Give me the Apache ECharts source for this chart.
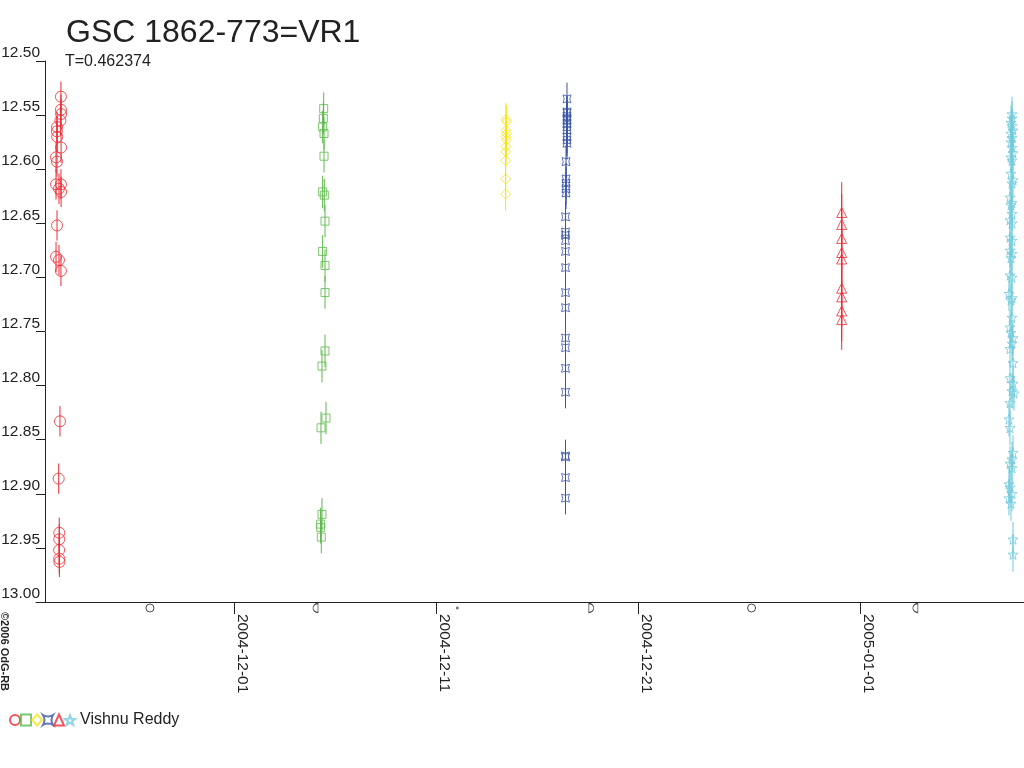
<!DOCTYPE html>
<html><head><meta charset="utf-8">
<script src="https://cdn.jsdelivr.net/npm/echarts@6/dist/echarts.min.js"></script>
<style>html,body{margin:0;padding:0;background:#fff}#c{width:1024px;height:768px}</style>
</head><body><div id="c"></div>
<script>
// ---- data ----
const TITLE = 'GSC 1862-773=VR1';
const SUBTITLE = 'T=0.462374';
const OBSERVER = 'Vishnu Reddy';
const COPYRIGHT = '©2006 OdG-RB';

const X_MIN = '2004-11-21 04:41';
const X_MAX = '2005-01-09 02:54';
const X_TICKS = ['2004-12-01', '2004-12-11', '2004-12-21', '2005-01-01'];
const Y_MIN = 12.50, Y_MAX = 13.00, Y_STEP = 0.05;

const MOON_DATES = ['2004-11-26 20:07', '2004-12-05 00:53', '2004-12-12 01:29', '2004-12-18 16:40', '2004-12-26 15:06', '2005-01-03 17:46'];
const MOON_PHASES = ['full', 'last', 'new', 'first', 'full', 'last'];

const ERR_CIRCLE = 0.014, ERR_SQUARE = 0.015, ERR_DIAMOND = 0.015, ERR_QUAD = 0.015, ERR_TRIANGLE = 0.028, ERR_STAR = 0.016;

const CIRCLE_PTS = [
 ['2004-11-22 10:20', 12.533], ['2004-11-22 10:20', 12.545], ['2004-11-22 10:30', 12.549], ['2004-11-22 09:40', 12.555],
 ['2004-11-22 05:40', 12.561], ['2004-11-22 05:30', 12.565], ['2004-11-22 05:50', 12.570], ['2004-11-22 10:30', 12.580],
 ['2004-11-22 04:30', 12.589], ['2004-11-22 05:40', 12.593], ['2004-11-22 04:30', 12.614], ['2004-11-22 10:20', 12.614],
 ['2004-11-22 08:00', 12.618], ['2004-11-22 10:30', 12.621], ['2004-11-22 05:40', 12.652], ['2004-11-22 04:30', 12.681],
 ['2004-11-22 08:00', 12.684], ['2004-11-22 10:20', 12.694], ['2004-11-22 09:10', 12.833], ['2004-11-22 07:40', 12.886],
 ['2004-11-22 08:20', 12.936], ['2004-11-22 08:20', 12.942], ['2004-11-22 08:10', 12.952], ['2004-11-22 08:20', 12.960],
 ['2004-11-22 08:30', 12.963]
];
const SQUARE_PTS = [
 ['2004-12-05 10:35', 12.544], ['2004-12-05 10:10', 12.553], ['2004-12-05 09:20', 12.561], ['2004-12-05 11:00', 12.567],
 ['2004-12-05 11:00', 12.588], ['2004-12-05 09:20', 12.621], ['2004-12-05 11:20', 12.624], ['2004-12-05 12:10', 12.648],
 ['2004-12-05 09:20', 12.676], ['2004-12-05 12:10', 12.689], ['2004-12-05 12:10', 12.714], ['2004-12-05 12:10', 12.768],
 ['2004-12-05 08:35', 12.782], ['2004-12-05 13:20', 12.830], ['2004-12-05 07:25', 12.839], ['2004-12-05 08:35', 12.919],
 ['2004-12-05 07:02', 12.928], ['2004-12-05 07:02', 12.931], ['2004-12-05 07:45', 12.940]
];
const DIAMOND_PTS = [
 ['2004-12-14 11:15', 12.554], ['2004-12-14 11:40', 12.556], ['2004-12-14 11:15', 12.564], ['2004-12-14 11:40', 12.567],
 ['2004-12-14 11:15', 12.570], ['2004-12-14 11:40', 12.573], ['2004-12-14 11:15', 12.579], ['2004-12-14 10:50', 12.584],
 ['2004-12-14 10:50', 12.592], ['2004-12-14 10:50', 12.609], ['2004-12-14 10:50', 12.623]
];
const QUAD_PTS = [
 ['2004-12-17 11:45', 12.535], ['2004-12-17 11:45', 12.547], ['2004-12-17 11:45', 12.548], ['2004-12-17 11:45', 12.551],
 ['2004-12-17 11:45', 12.553], ['2004-12-17 11:45', 12.555], ['2004-12-17 11:45', 12.558], ['2004-12-17 11:45', 12.561],
 ['2004-12-17 11:45', 12.564], ['2004-12-17 11:45', 12.570], ['2004-12-17 11:45', 12.573], ['2004-12-17 11:45', 12.576],
 ['2004-12-17 10:35', 12.593], ['2004-12-17 10:35', 12.609], ['2004-12-17 10:35', 12.613], ['2004-12-17 10:35', 12.618],
 ['2004-12-17 10:35', 12.622], ['2004-12-17 10:00', 12.644], ['2004-12-17 10:00', 12.658], ['2004-12-17 10:00', 12.661],
 ['2004-12-17 10:00', 12.666], ['2004-12-17 10:00', 12.676], ['2004-12-17 10:00', 12.691], ['2004-12-17 10:00', 12.714],
 ['2004-12-17 10:00', 12.728], ['2004-12-17 10:00', 12.756], ['2004-12-17 10:00', 12.765], ['2004-12-17 10:00', 12.784],
 ['2004-12-17 10:00', 12.806], ['2004-12-17 10:00', 12.865], ['2004-12-17 10:00', 12.866], ['2004-12-17 10:00', 12.885],
 ['2004-12-17 10:00', 12.904]
];
const TRIANGLE_PTS = [
 ['2004-12-31 02:15', 12.640], ['2004-12-31 02:15', 12.651], ['2004-12-31 02:15', 12.664], ['2004-12-31 02:15', 12.677],
 ['2004-12-31 02:15', 12.683], ['2004-12-31 02:15', 12.710], ['2004-12-31 02:15', 12.718], ['2004-12-31 02:15', 12.731],
 ['2004-12-31 02:15', 12.739]
];
const STAR_PTS = [
 ['2005-01-08 12:37', 12.549], ['2005-01-08 12:37', 12.553], ['2005-01-08 11:26', 12.557], ['2005-01-08 12:37', 12.560],
 ['2005-01-08 13:48', 12.564], ['2005-01-08 11:26', 12.567], ['2005-01-08 12:37', 12.571], ['2005-01-08 11:26', 12.575],
 ['2005-01-08 12:37', 12.580], ['2005-01-08 13:48', 12.585], ['2005-01-08 11:26', 12.589], ['2005-01-08 12:37', 12.592],
 ['2005-01-08 11:26', 12.604], ['2005-01-08 13:48', 12.610], ['2005-01-08 12:37', 12.613], ['2005-01-08 10:15', 12.626],
 ['2005-01-08 12:37', 12.631], ['2005-01-08 11:26', 12.633], ['2005-01-08 12:37', 12.641], ['2005-01-08 10:15', 12.647],
 ['2005-01-08 12:37', 12.650], ['2005-01-08 10:15', 12.663], ['2005-01-08 12:37', 12.666], ['2005-01-08 10:15', 12.675],
 ['2005-01-08 12:37', 12.678], ['2005-01-08 11:26', 12.682], ['2005-01-08 10:15', 12.698], ['2005-01-08 12:37', 12.700],
 ['2005-01-08 09:03', 12.715], ['2005-01-08 12:37', 12.719], ['2005-01-08 11:26', 12.721], ['2005-01-08 12:37', 12.737],
 ['2005-01-08 10:15', 12.746], ['2005-01-08 11:26', 12.751], ['2005-01-08 13:48', 12.756], ['2005-01-08 12:37', 12.761],
 ['2005-01-08 10:15', 12.766], ['2005-01-08 13:48', 12.779], ['2005-01-08 10:15', 12.793], ['2005-01-08 13:48', 12.798],
 ['2005-01-08 12:37', 12.805], ['2005-01-08 15:00', 12.807], ['2005-01-08 10:15', 12.816], ['2005-01-08 09:03', 12.831],
 ['2005-01-08 10:15', 12.839], ['2005-01-08 13:48', 12.862], ['2005-01-08 12:37', 12.868], ['2005-01-08 10:15', 12.872],
 ['2005-01-08 12:37', 12.876], ['2005-01-08 09:03', 12.891], ['2005-01-08 10:15', 12.894], ['2005-01-08 12:37', 12.900],
 ['2005-01-08 09:03', 12.904], ['2005-01-08 11:26', 12.909], ['2005-01-08 13:48', 12.942], ['2005-01-08 13:48', 12.956]
];

// ---- helpers ----
function t(s) { return Date.parse(s.replace(' ', 'T') + (s.length > 10 ? ':00Z' : 'T00:00:00Z')); }
function fmtDate(v) { return new Date(v).toISOString().slice(0, 10); }

const STAR_PATH = 'path://M10,0 L12.35,6.76 L19.51,6.91 L13.8,11.24 L15.88,18.09 L10,14 L4.12,18.09 L6.2,11.24 L0.49,6.91 L7.65,6.76 Z';
const QUAD_PATH = 'path://M0,0 Q5,3 10,0 Q7,5 10,10 Q5,7 0,10 Q3,5 0,0 Z';
const HALF_LEFT = 'path://M5,0 A5,5 0 0 0 5,10 L5,0 Z';
const HALF_RIGHT = 'path://M0,0 A5,5 0 0 1 0,10 L0,0 Z';

const FONT = 'Liberation Sans, Arial, sans-serif';
const TXT = '#222';

const groups = [
  { name: 'c1', pts: CIRCLE_PTS, err: ERR_CIRCLE, color: '#ee2a33', symbol: 'circle', size: 11 },
  { name: 'c2', pts: SQUARE_PTS, err: ERR_SQUARE, color: '#5db94b', symbol: 'rect', size: 8 },
  { name: 'c3', pts: DIAMOND_PTS, err: ERR_DIAMOND, color: '#f5e418', symbol: 'diamond', size: 10 },
  { name: 'c4', pts: QUAD_PTS, err: ERR_QUAD, color: '#3a55a6', symbol: QUAD_PATH, size: 8 },
  { name: 'c5', pts: TRIANGLE_PTS, err: ERR_TRIANGLE, color: '#ee2a33', symbol: 'triangle', size: 10 },
  { name: OBSERVER, pts: STAR_PTS, err: ERR_STAR, color: '#6fcadc', symbol: STAR_PATH, size: 10 }
];

const series = [];
groups.forEach(g => {
  series.push({
    type: 'custom', name: g.name + '-err', silent: true, z: 2,
    data: g.pts.map(p => [t(p[0]), p[1], g.err]),
    encode: { x: 0, y: 1 },
    renderItem: (params, api) => {
      const x = api.value(0), y = api.value(1), e = api.value(2);
      const a = api.coord([x, y - e]), b = api.coord([x, y + e]);
      return { type: 'line', shape: { x1: a[0], y1: a[1], x2: b[0], y2: b[1] }, style: { stroke: g.color, lineWidth: 1 } };
    }
  });
  series.push({
    type: 'scatter', name: g.name, z: 3,
    symbol: g.symbol, symbolSize: g.size,
    itemStyle: { color: 'rgba(255,255,255,0)', borderColor: g.color, borderWidth: 1 },
    data: g.pts.map(p => [t(p[0]), p[1]])
  });
});

const moonSym = { full: ['circle', 8], last: [HALF_LEFT, [5, 9]], new: ['circle', 2], first: [HALF_RIGHT, [5, 9]] };
series.push({
  type: 'scatter', name: 'moon', silent: true, clip: false, z: 4,
  itemStyle: { color: 'rgba(255,255,255,0)', borderColor: TXT, borderWidth: 1 },
  data: MOON_DATES.map((d, i) => ({
    value: [t(d), Y_MAX],
    symbol: moonSym[MOON_PHASES[i]][0],
    symbolSize: moonSym[MOON_PHASES[i]][1],
    symbolOffset: [0, 6]
  }))
});

const tickVals = X_TICKS.map(t);

const option = {
  backgroundColor: '#fff',
  animation: false,
  textStyle: { fontFamily: FONT, color: TXT },
  title: [
    { text: TITLE, left: 61, top: 12, textStyle: { fontSize: 32, fontWeight: 'normal', color: TXT, fontFamily: FONT } },
    { text: SUBTITLE, left: 60, top: 49, textStyle: { fontSize: 16, fontWeight: 'normal', color: TXT, fontFamily: FONT } }
  ],
  legend: {
    data: groups.map(g => g.name), left: 4, top: 707, orient: 'horizontal',
    itemWidth: 10, itemHeight: 11, itemGap: -1, selectedMode: false,
    formatter: n => (n === OBSERVER ? n : ''),
    textStyle: { fontSize: 16, color: TXT, fontFamily: FONT }
  },
  graphic: [{
    type: 'text', x: -1, y: 612, rotation: -Math.PI / 2,
    style: { text: COPYRIGHT, fontSize: 11, fontWeight: 'bold', fontFamily: FONT, fill: TXT, textAlign: 'left', textVerticalAlign: 'bottom', verticalAlign: 'bottom' }
  }],
  grid: { left: 36, right: 0, top: 61, bottom: 166, containLabel: false, outerBoundsMode: 'none' },
  xAxis: {
    type: 'value', min: t(X_MIN), max: t(X_MAX),
    axisLine: { show: true, lineStyle: { color: TXT, width: 1 } },
    axisTick: { show: true, length: 12, lineStyle: { color: TXT }, customValues: tickVals },
    axisLabel: { show: true, rotate: -90, margin: 12, fontSize: 15.5, color: TXT, fontFamily: FONT, verticalAlign: 'bottom', customValues: tickVals, formatter: v => fmtDate(v) },
    splitLine: { show: false }
  },
  yAxis: {
    type: 'value', inverse: true, min: Y_MIN, max: Y_MAX, interval: Y_STEP, offset: -9,
    axisLine: { show: true, lineStyle: { color: TXT, width: 1 } },
    axisTick: { show: true, length: 9, lineStyle: { color: TXT } },
    axisLabel: { show: true, margin: 5, fontSize: 15.5, color: TXT, fontFamily: FONT, verticalAlign: 'bottom', formatter: v => v.toFixed(2) },
    splitLine: { show: false }
  },
  series: series
};

const chart = echarts.init(document.getElementById('c'), null, { renderer: 'canvas' });
chart.setOption(option);
</script></body></html>
